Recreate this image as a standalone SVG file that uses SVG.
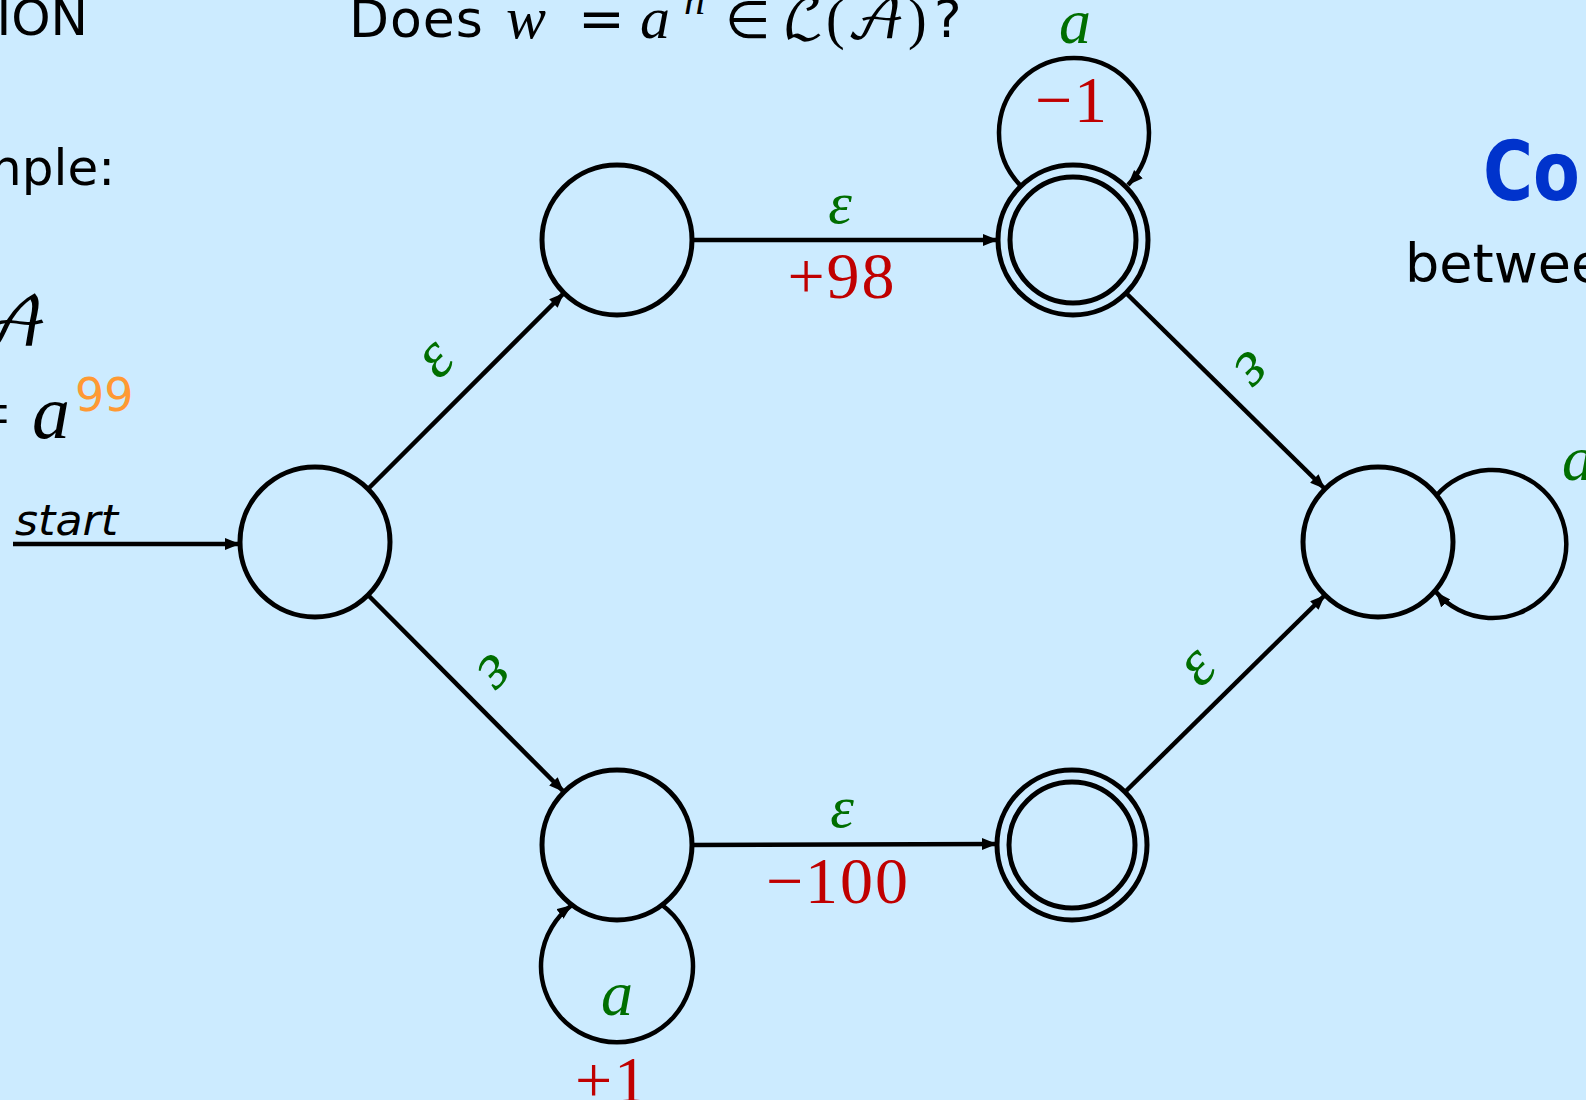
<svg xmlns="http://www.w3.org/2000/svg" width="1586" height="1100" viewBox="0 0 1586 1100">
<defs>
<marker id="arr" markerWidth="17" markerHeight="13" refX="15" refY="6" orient="auto" markerUnits="userSpaceOnUse"><path d="M0,0 L15,6 L0,12 z" fill="#000"/></marker>
<style>
.node{fill:none;stroke:#000;stroke-width:5}
.edge{fill:none;stroke:#000;stroke-width:4.5;marker-end:url(#arr)}
.sans{font-family:"DejaVu Sans","Noto Sans",sans-serif;fill:#000}
.math{font-family:"Liberation Serif","DejaVu Serif",serif;font-style:italic}
.num{font-family:"Liberation Serif","DejaVu Serif",serif;fill:#C00000;font-size:66px;text-anchor:middle;letter-spacing:2px}
.eps{font-family:"Liberation Serif","DejaVu Serif",serif;font-style:italic;fill:#006E00}
</style>
</defs>
<rect width="1586" height="1100" fill="#CCEBFF"/>

<!-- left text -->
<text class="sans" x="88" y="35" font-size="50" text-anchor="end">ION</text>
<text class="sans" x="115" y="185" font-size="50" text-anchor="end">nple:</text>
<text x="-24" y="346" font-size="68" font-family="'DejaVu Math TeX Gyre','DejaVu Sans',serif" fill="#000">𝒜</text>
<text x="10" y="438" font-size="72" font-family="'Liberation Serif',serif" text-anchor="end" fill="#000">=</text>
<text class="math" x="32" y="438" font-size="76" fill="#000">a</text>
<text class="sans" x="75" y="411" font-size="46" style="fill:#FF9933">99</text>

<!-- title -->
<text class="sans" x="349" y="37" font-size="52" letter-spacing="1">Does</text>
<text class="math" x="506" y="38" font-size="60" fill="#000">w</text>
<text x="578" y="38" font-size="56" font-family="'DejaVu Sans',sans-serif" fill="#000">=</text>
<text class="math" x="640" y="38" font-size="60" fill="#000">a</text>
<text class="math" x="684" y="14" font-size="42" fill="#000">n</text>
<text x="725" y="38" font-size="52" font-family="'DejaVu Sans',sans-serif" fill="#000">∈</text>
<text x="782" y="38" font-size="56" font-family="'DejaVu Math TeX Gyre','DejaVu Sans',serif" fill="#000">ℒ</text>
<text x="826" y="38" font-size="56" font-family="'Liberation Serif',serif" fill="#000">(</text>
<text x="846" y="38" font-size="56" font-family="'DejaVu Math TeX Gyre','DejaVu Sans',serif" fill="#000">𝒜</text>
<text x="908" y="38" font-size="56" font-family="'Liberation Serif',serif" fill="#000">)</text>
<text class="sans" x="934" y="37" font-size="52">?</text>

<!-- right text -->
<text x="1483" y="200" font-size="82" font-weight="bold" font-family="'DejaVu Sans','Noto Sans',sans-serif" fill="#0033CC" textLength="97" lengthAdjust="spacingAndGlyphs">Co</text>
<text class="sans" x="1405" y="282" font-size="54">betwee</text>

<!-- start label -->
<text x="15" y="535" font-size="42" font-style="italic" font-family="'DejaVu Sans',sans-serif" fill="#000" textLength="103" lengthAdjust="spacingAndGlyphs">start</text>

<!-- connectors -->
<g id="connectors">
<path class="edge" d="M13,544 L240,544"/>
<path class="edge" d="M368,489 L564,293"/>
<path class="edge" d="M368,595 L564,792"/>
<path class="edge" d="M692,240 L998,240"/>
<path class="edge" d="M692,845 L997,844"/>
<path class="edge" d="M1126,293 L1325,489"/>
<path class="edge" d="M1125,792 L1325,595"/>
<path class="edge" d="M1020,185 A75,75 0 1 1 1128,185"/>
<path class="edge" d="M662,905 A76,76 0 1 1 572,905"/>
<path class="edge" d="M1436,496 A74,74 0 1 1 1436,592"/>
</g>

<!-- nodes -->
<g id="q0"><circle class="node" cx="315" cy="542" r="75"/></g>
<g id="q1"><circle class="node" cx="617" cy="240" r="75"/></g>
<g id="q2"><circle class="node" cx="617" cy="845" r="75"/></g>
<g id="q3"><circle class="node" cx="1073" cy="240" r="75"/><circle class="node" cx="1073" cy="240" r="63"/></g>
<g id="q4"><circle class="node" cx="1072" cy="845" r="75"/><circle class="node" cx="1072" cy="845" r="63"/></g>
<g id="q5"><circle class="node" cx="1378" cy="542" r="75"/></g>

<!-- edge labels -->
<g id="labels" text-anchor="middle">
<text class="eps" x="840" y="223" font-size="60">ε</text>
<text class="num" x="842" y="298">+98</text>
<text class="eps" x="842" y="827" font-size="60">ε</text>
<text class="num" x="838" y="903">−100</text>
<text class="eps" font-size="66" transform="translate(438,362) rotate(-45)" y="14">ε</text>
<text class="eps" font-size="66" transform="translate(493,670) rotate(135)" y="14">ε</text>
<text class="eps" font-size="66" transform="translate(1250,367) rotate(135)" y="14">ε</text>
<text class="eps" font-size="66" transform="translate(1200,670) rotate(-45)" y="14">ε</text>
<text class="eps" x="1075" y="43" font-size="64">a</text>
<text class="num" x="1072" y="122">−1</text>
<text class="eps" x="617" y="1015" font-size="64">a</text>
<text class="num" x="612" y="1102">+1</text>
<text class="eps" x="1562" y="480" font-size="64" text-anchor="start">a</text>
</g>
</svg>
